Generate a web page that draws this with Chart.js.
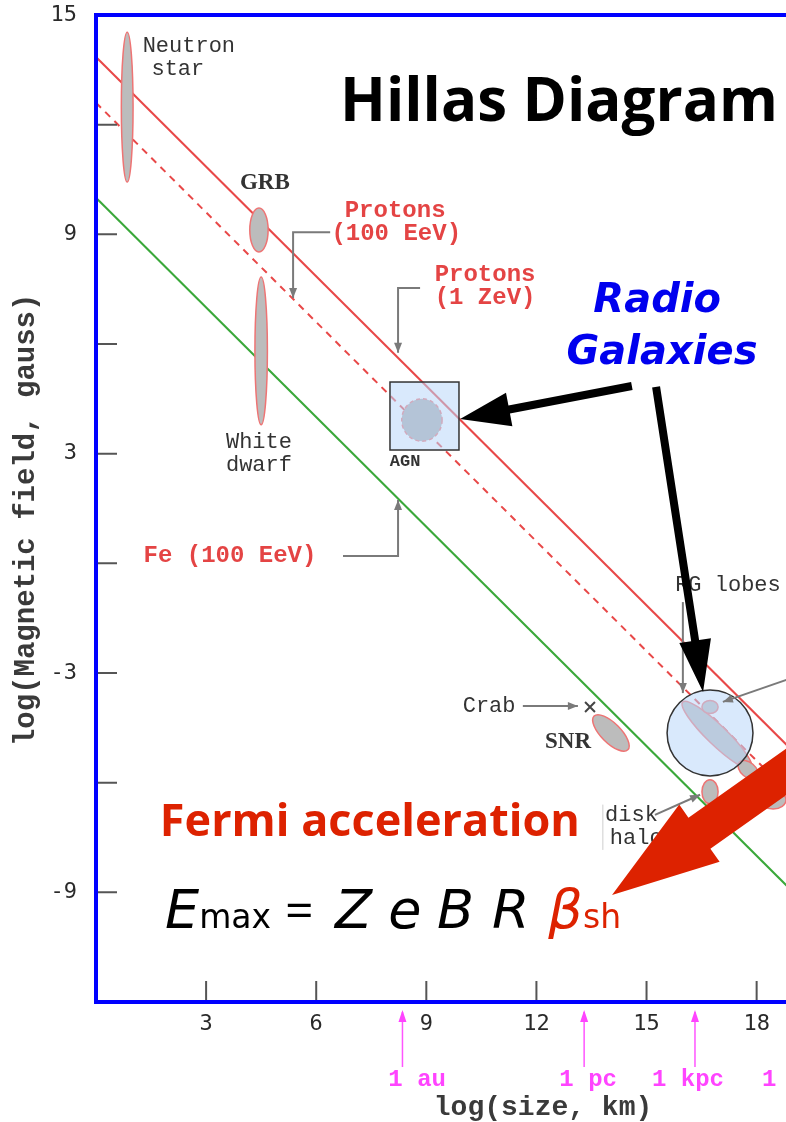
<!DOCTYPE html>
<html>
<head>
<meta charset="utf-8">
<script src="https://cdn.jsdelivr.net/npm/chart.js@4.4.1/dist/chart.umd.min.js"></script>
<style>
  html, body { margin: 0; padding: 0; background: #fff; }
</style>
</head>
<body>
<canvas id="hillas" width="786" height="1122"></canvas>
<script>
// axis ranges (log size in km, log B in gauss)
const sizeRange = [0, 18.8];
const fieldRange = [-12, 15];
const sizeTicks = [3, 6, 9, 12, 15, 18];
const fieldTicks = [15, 9, 3, -3, -9];

// maximum-energy lines, two end points each
const limitSize = [0, 19];
const protonsZeV = [13.85, -5.15];
const protonsEeV = [12.6, -6.4];
const ironEeV = [10, -9];

// source regions: centre, half extents, tilt
const sourceNames = ["Neutron star", "GRB", "White dwarf", "AGN", "SNR", "RG lobes", "RG hot spot", "RG tail", "Disk", "Halo"];
const sourceSize = [0.85, 4.44, 4.5, 8.88, 14.03, 16.92, 16.73, 17.77, 16.73, 18.45];
const sourceField = [12.48, 9.12, 5.81, 3.92, -4.64, -4.7, -3.93, -5.65, -6.25, -6.47];
const sourceSizeHalf = [0.16, 0.25, 0.17, 0.55, 0.65, 1.3, 0.22, 0.32, 0.22, 0.35];
const sourceFieldHalf = [2.05, 0.6, 2.02, 0.58, 0.27, 0.27, 0.18, 0.2, 0.33, 0.25];
const sourceTilt = [0, 0, 0, 0, 45, 44, 0, 40, 0, 0];

// Crab nebula point
const crabSize = [13.46];
const crabField = [-3.93];

// reference sizes under the x axis
const sizeMarkLabels = ["1 au", "1 pc", "1 kpc", "1 Mpc"];
const sizeMarkLog = [8.35, 13.3, 16.32, 19.5];
const sizeMarkTextAt = [8.75, 13.41, 16.13, 19.13];

const mono = '"Liberation Mono", "Courier New", monospace';
const labelGrey = "#333";
const labelRed = "#e44444";

// text placed in data coordinates
const textLabels = [
  { lines: ["Neutron", "star"], x: [2.53, 2.23], y: 14.15, font: "22px " + mono, color: labelGrey },
  { lines: ["GRB"], x: [4.6], y: 10.4, font: 'bold 23px "Liberation Serif"', color: labelGrey },
  { lines: ["Protons", "(100 EeV)"], x: [8.15, 8.18], y: 9.64, font: "bold 24px " + mono, color: labelRed },
  { lines: ["Protons", "(1 ZeV)"], x: [10.6, 10.6], y: 7.89, font: "bold 24px " + mono, color: labelRed },
  { lines: ["White", "dwarf"], x: [4.44, 4.44], y: 3.32, font: "22px " + mono, color: labelGrey },
  { lines: ["AGN"], x: [8.42], y: 2.77, font: "bold 17px " + mono, color: labelGrey },
  { lines: ["Fe (100 EeV)"], x: [3.65], y: 0.2, font: "bold 24px " + mono, color: labelRed },
  { lines: ["Crab"], x: [10.71], y: -3.9, font: "22px " + mono, color: labelGrey },
  { lines: ["SNR"], x: [12.86], y: -4.88, font: 'bold 23px "Liberation Serif"', color: labelGrey },
  { lines: ["RG lobes"], x: [15.78], y: -0.59, font: "22px " + mono, color: labelGrey, align: "left" },
  { lines: ["disk", "halo"], x: [13.87, 14.0], y: -6.88, font: "22px " + mono, color: labelGrey, align: "left" }
];

// grey leader lines, arrow at the last point
const pointers = [
  [[6.38, 9.06], [5.37, 9.06], [5.37, 7.26]],
  [[8.83, 7.53], [8.23, 7.53], [8.23, 5.76]],
  [[6.73, 0.2], [8.23, 0.2], [8.23, 1.73]],
  [[11.63, -3.9], [13.13, -3.9]],
  [[15.99, -1.06], [15.99, -3.55]],
  [[19.5, -2.95], [17.08, -3.79]],
  [[15.23, -6.88], [16.46, -6.33]]
];

const formulaPieces = [
  { t: "E", x: 1.88, font: 'oblique 54px "DejaVu Sans"', color: "#000" },
  { t: "max", x: 2.81, font: '33px "DejaVu Sans"', color: "#000" },
  { t: "=", x: 5.15, font: '50px "Open Sans"', color: "#000" },
  { t: "Z", x: 6.51, font: 'oblique 54px "DejaVu Sans"', color: "#000" },
  { t: "e", x: 7.96, font: 'oblique 54px "DejaVu Sans"', color: "#000" },
  { t: "B", x: 9.29, font: 'oblique 54px "DejaVu Sans"', color: "#000" },
  { t: "R", x: 10.79, font: 'oblique 54px "DejaVu Sans"', color: "#000" },
  { t: "β", x: 12.32, font: 'oblique 54px "DejaVu Sans"', color: "#dd2200" },
  { t: "sh", x: 13.27, font: '33px "DejaVu Sans"', color: "#dd2200" }
];

function toPoints(xs, ys) {
  return xs.map((x, i) => ({ x, y: ys[i] }));
}

function drawArrow(ctx, x1, y1, x2, y2, shaft, head, headLen, color) {
  const len = Math.hypot(x2 - x1, y2 - y1);
  const ux = (x2 - x1) / len, uy = (y2 - y1) / len;
  const nx = -uy, ny = ux;
  const bx = x2 - ux * headLen, by = y2 - uy * headLen;
  ctx.beginPath();
  ctx.moveTo(x1 + nx * shaft / 2, y1 + ny * shaft / 2);
  ctx.lineTo(bx + nx * shaft / 2, by + ny * shaft / 2);
  ctx.lineTo(bx + nx * head / 2, by + ny * head / 2);
  ctx.lineTo(x2, y2);
  ctx.lineTo(bx - nx * head / 2, by - ny * head / 2);
  ctx.lineTo(bx - nx * shaft / 2, by - ny * shaft / 2);
  ctx.lineTo(x1 - nx * shaft / 2, y1 - ny * shaft / 2);
  ctx.closePath();
  ctx.fillStyle = color;
  ctx.fill();
}

// keep the plot box where the original has it
function noScalePadding(s) {
  s.paddingTop = 0;
  s.paddingBottom = 0;
  s.paddingLeft = 0;
  s.paddingRight = 0;
}

const hillasPlugin = {
  id: "hillas",
  afterDatasetsDraw(chart) {
    const { ctx, scales } = chart;
    const px = v => scales.x.getPixelForValue(v);
    const py = v => scales.y.getPixelForValue(v);
    ctx.save();

    // source regions
    sourceNames.forEach((name, i) => {
      const cx = px(sourceSize[i]), cy = py(sourceField[i]);
      const rx = px(sourceSize[i] + sourceSizeHalf[i]) - cx;
      const ry = cy - py(sourceField[i] + sourceFieldHalf[i]);
      ctx.beginPath();
      ctx.ellipse(cx, cy, rx, ry, sourceTilt[i] * Math.PI / 180, 0, Math.PI * 2);
      ctx.fillStyle = name === "AGN" ? "#adadad" : "#bcbcbc";
      ctx.fill();
      ctx.strokeStyle = "#ee7474";
      ctx.lineWidth = 1.5;
      ctx.setLineDash(name === "AGN" ? [4, 3] : []);
      ctx.stroke();
    });
    ctx.setLineDash([]);

    // highlight box on AGN and circle on radio lobes
    const agn = 3, lobes = 6;
    ctx.fillStyle = "rgba(185,215,250,0.55)";
    ctx.strokeStyle = "#333";
    ctx.lineWidth = 1.5;
    const bx0 = px(sourceSize[agn] - 0.87), by0 = py(sourceField[agn] + 1.04);
    const bx1 = px(sourceSize[agn] + 1.01), by1 = py(sourceField[agn] - 0.82);
    ctx.fillRect(bx0, by0, bx1 - bx0, by1 - by0);
    ctx.strokeRect(bx0, by0, bx1 - bx0, by1 - by0);
    const ccx = px(sourceSize[lobes]), ccy = py(sourceField[lobes] - 0.71);
    const cr = px(sourceSize[lobes] + 1.17) - ccx;
    ctx.beginPath();
    ctx.arc(ccx, ccy, cr, 0, Math.PI * 2);
    ctx.fill();
    ctx.stroke();

    // leader lines
    ctx.strokeStyle = "#7a7a7a";
    ctx.fillStyle = "#7a7a7a";
    ctx.lineWidth = 2;
    pointers.forEach(path => {
      ctx.beginPath();
      path.forEach(([x, y], k) => k ? ctx.lineTo(px(x), py(y)) : ctx.moveTo(px(x), py(y)));
      ctx.stroke();
      const [ax, ay] = path[path.length - 1];
      const [fx, fy] = path[path.length - 2];
      const tx = px(ax), ty = py(ay);
      const l = Math.hypot(tx - px(fx), ty - py(fy));
      const ux = (tx - px(fx)) / l, uy = (ty - py(fy)) / l;
      ctx.beginPath();
      ctx.moveTo(tx, ty);
      ctx.lineTo(tx - ux * 10 - uy * 4, ty - uy * 10 + ux * 4);
      ctx.lineTo(tx - ux * 10 + uy * 4, ty - uy * 10 - ux * 4);
      ctx.closePath();
      ctx.fill();
    });
    ctx.strokeStyle = "#cfcfcf";
    ctx.lineWidth = 1;
    ctx.beginPath();
    ctx.moveTo(px(13.81), py(-6.6));
    ctx.lineTo(px(13.81), py(-7.84));
    ctx.stroke();

    // labels
    ctx.textBaseline = "middle";
    textLabels.forEach(lab => {
      ctx.font = lab.font;
      ctx.fillStyle = lab.color;
      ctx.textAlign = lab.align || "center";
      lab.lines.forEach((line, k) => {
        ctx.fillText(line, px(lab.x[k]), py(lab.y) + k * 23);
      });
    });

    // Radio Galaxies pointers
    drawArrow(ctx, px(14.6), py(4.85), px(9.92), py(3.95), 8, 34, 50, "#000");
    drawArrow(ctx, px(15.26), py(4.83), px(16.54), py(-3.52), 8, 32, 52, "#000");

    // overlay text
    ctx.textBaseline = "alphabetic";
    ctx.textAlign = "left";
    ctx.fillStyle = "#000";
    ctx.font = 'bold 60px "Open Sans"';
    ctx.fillText("Hillas Diagram", px(6.65), py(12.1));

    ctx.textAlign = "center";
    ctx.fillStyle = "#0000ee";
    ctx.font = 'italic bold 40px "DejaVu Sans"';
    ctx.fillText("Radio", px(15.29), py(6.88));
    ctx.fillText("Galaxies", px(15.42), py(5.45));

    ctx.textAlign = "left";
    ctx.fillStyle = "#dd2200";
    ctx.font = 'bold 45px "Open Sans"';
    ctx.fillText("Fermi acceleration", px(1.74), py(-7.46));

    formulaPieces.forEach(p => {
      ctx.font = p.font;
      ctx.fillStyle = p.color;
      ctx.fillText(p.t, px(p.x), py(-9.97));
    });

    drawArrow(ctx, px(19.46), py(-5.24), px(14.06), py(-9.07), 38, 70, 107, "#dd2200");
    ctx.restore();
  },
  afterDraw(chart) {
    const { ctx, chartArea: a, scales } = chart;
    const px = v => scales.x.getPixelForValue(v);
    const py = v => scales.y.getPixelForValue(v);
    ctx.save();

    // inner tick marks
    ctx.strokeStyle = "#555";
    ctx.lineWidth = 2;
    ctx.beginPath();
    for (let v = fieldRange[0] + 3; v < fieldRange[1]; v += 3) {
      ctx.moveTo(a.left, py(v));
      ctx.lineTo(a.left + 21, py(v));
    }
    sizeTicks.forEach(v => {
      ctx.moveTo(px(v), a.bottom);
      ctx.lineTo(px(v), a.bottom - 21);
    });
    ctx.stroke();

    // blue frame
    ctx.strokeStyle = "#0000ff";
    ctx.lineWidth = 4;
    ctx.beginPath();
    ctx.moveTo(chart.width + 2, a.top);
    ctx.lineTo(a.left, a.top);
    ctx.lineTo(a.left, a.bottom);
    ctx.lineTo(chart.width + 2, a.bottom);
    ctx.stroke();

    // reference sizes
    ctx.strokeStyle = "#ff55ff";
    ctx.fillStyle = "#ff44ff";
    ctx.lineWidth = 1.5;
    ctx.font = "bold 24px " + mono;
    ctx.textAlign = "center";
    ctx.textBaseline = "middle";
    sizeMarkLog.forEach((v, i) => {
      const x = px(v);
      ctx.beginPath();
      ctx.moveTo(x, a.bottom + 65);
      ctx.lineTo(x, a.bottom + 10);
      ctx.stroke();
      ctx.beginPath();
      ctx.moveTo(x, a.bottom + 8);
      ctx.lineTo(x - 4, a.bottom + 20);
      ctx.lineTo(x + 4, a.bottom + 20);
      ctx.closePath();
      ctx.fill();
      ctx.fillText(sizeMarkLabels[i], px(sizeMarkTextAt[i]), a.bottom + 78);
    });

    // axis titles
    ctx.fillStyle = "#3a3a3a";
    ctx.font = "bold 28px " + mono;
    ctx.fillText("log(size, km)", px(12.18), a.bottom + 106);
    ctx.font = "bold 29px " + mono;
    ctx.translate(27, py(1.19));
    ctx.rotate(-Math.PI / 2);
    ctx.fillText("log(Magnetic field, gauss)", 0, 0);
    ctx.restore();
  }
};

new Chart(document.getElementById("hillas"), {
  type: "scatter",
  data: {
    datasets: [
      { label: "Protons (1 ZeV)", data: toPoints(limitSize, protonsZeV), showLine: true, borderColor: "#e84848", borderWidth: 2, pointRadius: 0 },
      { label: "Protons (100 EeV)", data: toPoints(limitSize, protonsEeV), showLine: true, borderColor: "#e84848", borderWidth: 2, borderDash: [7, 6], pointRadius: 0 },
      { label: "Fe (100 EeV)", data: toPoints(limitSize, ironEeV), showLine: true, borderColor: "#3aa83a", borderWidth: 2, pointRadius: 0 },
      { label: "Crab", data: toPoints(crabSize, crabField), pointStyle: "crossRot", pointRadius: 7, borderColor: "#444", borderWidth: 2 }
    ]
  },
  options: {
    responsive: false,
    animation: false,
    layout: { autoPadding: false, padding: { top: 15, right: 0, bottom: 0, left: 0 } },
    plugins: { legend: { display: false }, tooltip: { enabled: false } },
    scales: {
      x: {
        type: "linear",
        min: sizeRange[0],
        max: sizeRange[1],
        grid: { display: false, drawTicks: false },
        border: { display: false },
        ticks: {
          autoSkip: false,
          maxRotation: 0,
          padding: 9,
          color: "#2a2a2a",
          font: { family: "DejaVu Sans Mono", size: 22 },
          callback: v => sizeTicks.includes(v) ? String(v) : ""
        },
        afterBuildTicks: s => { s.ticks = sizeTicks.map(v => ({ value: v })); },
        afterFit: s => { s.height = 120; noScalePadding(s); }
      },
      y: {
        min: fieldRange[0],
        max: fieldRange[1],
        grid: { display: false, drawTicks: false },
        border: { display: false },
        ticks: {
          autoSkip: false,
          padding: 19,
          color: "#2a2a2a",
          font: { family: "DejaVu Sans Mono", size: 22 },
          callback: v => String(v)
        },
        afterBuildTicks: s => { s.ticks = fieldTicks.map(v => ({ value: v })); },
        afterFit: s => { s.width = 96; noScalePadding(s); }
      }
    }
  },
  plugins: [hillasPlugin]
});
</script>
</body>
</html>
